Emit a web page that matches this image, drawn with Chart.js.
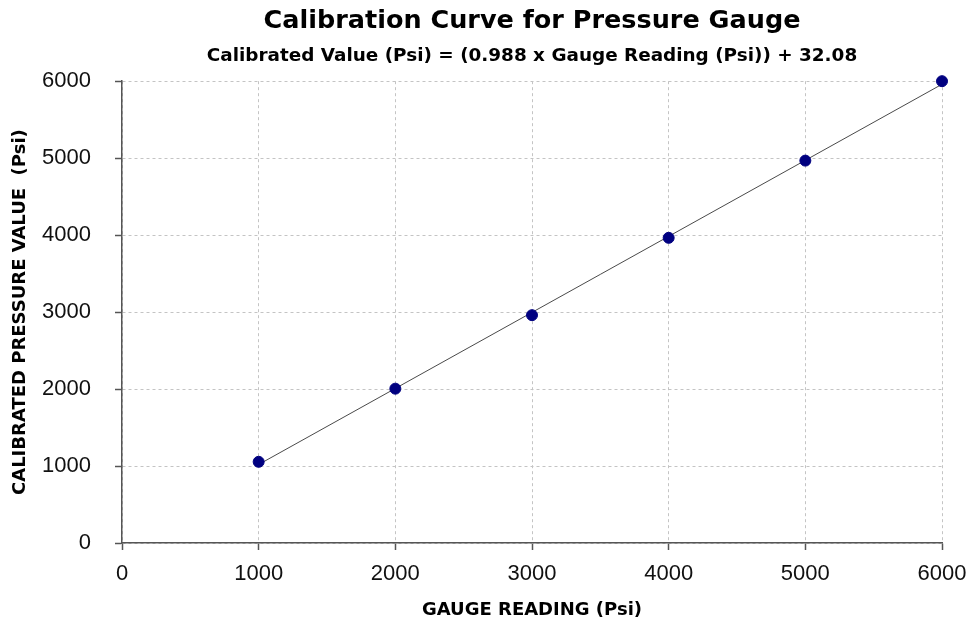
<!DOCTYPE html>
<html>
<head>
<meta charset="utf-8">
<script src="https://cdn.jsdelivr.net/npm/chart.js@4.4.1/dist/chart.umd.min.js"></script>
<style>
  html, body { margin: 0; padding: 0; background: #ffffff; }
  #wrap { width: 969px; height: 623px; position: relative; }
</style>
</head>
<body>
<div id="wrap"><canvas id="calChart"></canvas></div>
<script>
// gauge readings (x) and calibrated values (y)
const gaugeReadings = [1000, 2000, 3000, 4000, 5000, 6000];
const calibratedValues = [1055, 2005, 2960, 3965, 4968, 6000];

// ends of the fitted line as drawn
const trendX = [1000, 6000];
const trendY = [1020, 5960];

const axisTicks = [0, 1000, 2000, 3000, 4000, 5000, 6000];

const AXIS_COLOR = "#555555";
const GRID_COLOR = "#c4c4c4";
const WIDE_BOLD = "'DejaVu Sans', Arial, sans-serif";

function toPoints(xs, ys) {
  return xs.map((x, i) => ({ x, y: ys[i] }));
}

function axisOptions(titleText, titleFont, titlePadding, tickPadding, afterFit) {
  return {
    type: "linear",
    min: axisTicks[0],
    max: axisTicks[axisTicks.length - 1],
    afterBuildTicks: (axis) => {
      axis.ticks = axisTicks.map((v) => ({ value: v }));
    },
    afterFit,
    border: { display: true, color: AXIS_COLOR, width: 1.5, dash: [3, 3] },
    grid: {
      color: GRID_COLOR,
      lineWidth: 1,
      drawTicks: true,
      tickLength: 7,
      tickColor: AXIS_COLOR,
      tickWidth: 1.5,
      tickBorderDash: [],
    },
    ticks: {
      color: "#111111",
      font: { family: "'Liberation Sans', Arial, sans-serif", size: 22 },
      padding: tickPadding,
      callback: (v) => String(v),
    },
    title: {
      display: true,
      text: titleText,
      color: "#000000",
      font: titleFont,
      padding: titlePadding,
    },
  };
}

function renderChart() {
  const ctx = document.getElementById("calChart").getContext("2d");

  new Chart(ctx, {
    type: "scatter",
    data: {
      datasets: [
        {
          label: "Readings",
          data: toPoints(gaugeReadings, calibratedValues),
          backgroundColor: "#000080",
          borderColor: "#000080",
          pointRadius: 5.5,
          pointHoverRadius: 5.5,
          showLine: false,
          clip: false,
          order: 1,
        },
        {
          label: "Fit",
          data: toPoints(trendX, trendY),
          showLine: true,
          borderColor: "#4a4a4a",
          borderWidth: 1,
          pointRadius: 0,
          fill: false,
          order: 2,
        },
      ],
    },
    options: {
      responsive: true,
      maintainAspectRatio: false,
      animation: false,
      layout: { padding: { top: 0, right: 27, bottom: 2, left: 10 } },
      plugins: {
        legend: { display: false },
        tooltip: { enabled: false },
        title: {
          display: true,
          fullSize: false,
          text: "Calibration Curve for Pressure Gauge",
          color: "#000000",
          font: { family: WIDE_BOLD, size: 25.5, weight: "bold" },
          padding: { top: 6, bottom: 9 },
        },
        subtitle: {
          display: true,
          fullSize: false,
          text: "Calibrated Value (Psi) = (0.988 x Gauge Reading (Psi)) + 32.08",
          color: "#000000",
          font: { family: WIDE_BOLD, size: 18.4, weight: "bold" },
          padding: { top: 0, bottom: 13.5 },
        },
      },
      scales: {
        x: axisOptions(
          "GAUGE READING (Psi)",
          { family: WIDE_BOLD, size: 18, weight: "bold" },
          { top: 0, bottom: 0 },
          11,
          (scale) => {
            scale.height = 78;
            scale.paddingRight = 27;
          }
        ),
        y: axisOptions(
          "CALIBRATED PRESSURE VALUE  (Psi)",
          { family: WIDE_BOLD, size: 18, weight: "bold" },
          { top: 0, bottom: 0 },
          24,
          (scale) => {
            scale.width = 112;
          }
        ),
      },
    },
  });
}

document.addEventListener("DOMContentLoaded", renderChart);
</script>
</body>
</html>
